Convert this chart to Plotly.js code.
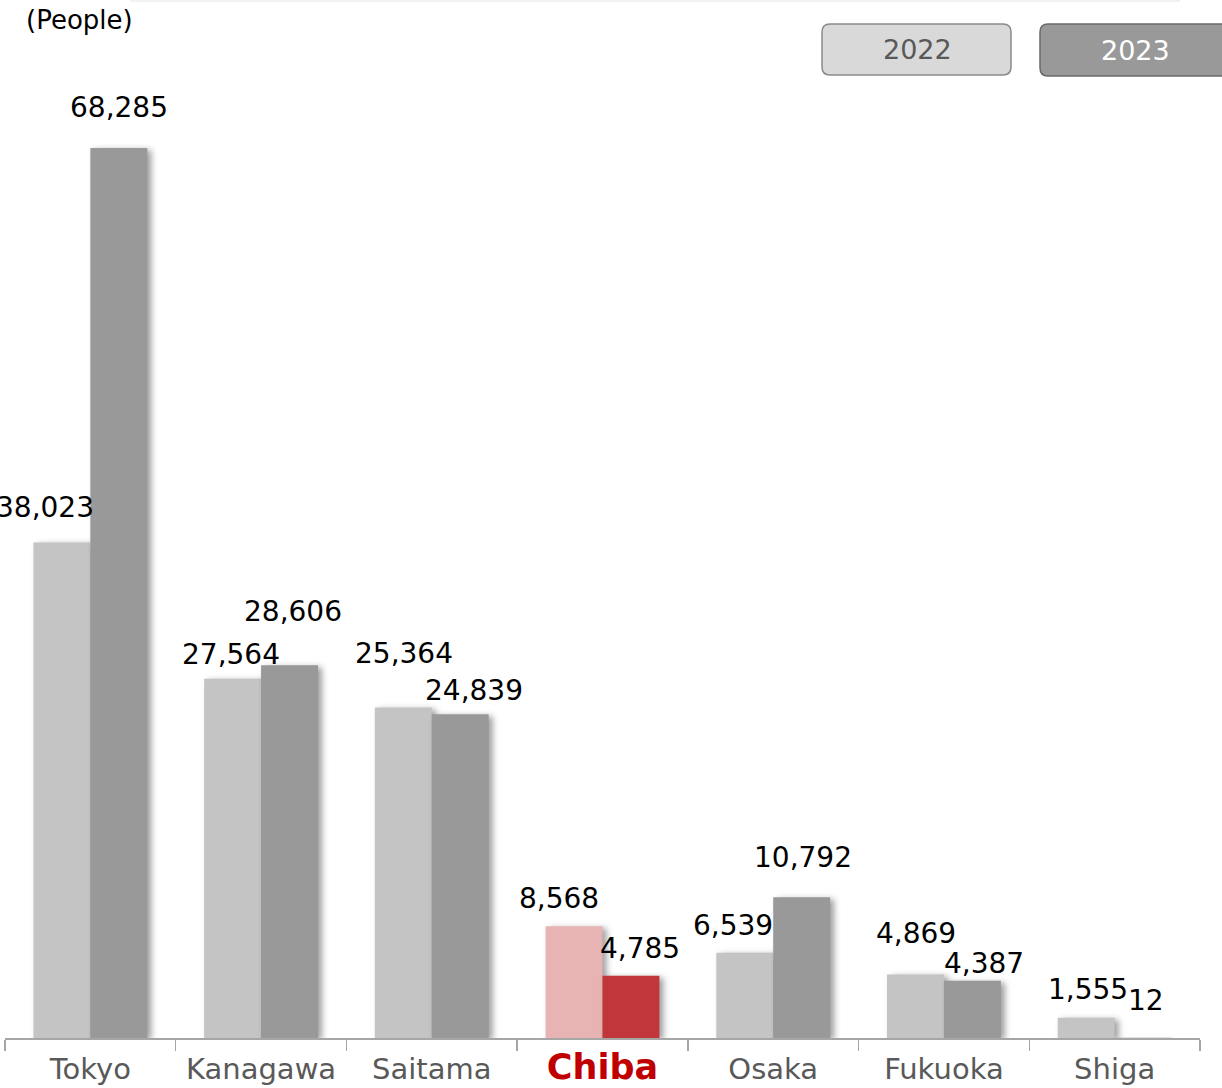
<!DOCTYPE html>
<html>
<head>
<meta charset="utf-8">
<script src="https://cdn.plot.ly/plotly-3.0.1.min.js"></script>
<style>
html,body{margin:0;padding:0;background:#fff;}
#chart{width:1222px;height:1088px;}
.bars .point path{filter:drop-shadow(4px 2px 3px rgba(0,0,0,0.38));}
</style>
</head>
<body>
<div id="chart"></div>
<script>
// ---- data ----
const prefectures = ["Tokyo","Kanagawa","Saitama","Chiba","Osaka","Fukuoka","Shiga"];
const values2022 = [38023, 27564, 25364, 8568, 6539, 4869, 1555];
const values2023 = [68285, 28606, 24839, 4785, 10792, 4387, 12];
const seriesNames = ["2022","2023"];
const unitLabel = "(People)";
const highlight = "Chiba";

// ---- styling ----
const FONT = "DejaVu Sans, Verdana, sans-serif";
const col2022 = "#c4c4c4", col2023 = "#999999";
const hi2022 = "#e8b3b3", hi2023 = "#c0363a";
const W = 1222, H = 1088;
const mL = 5, mR = 22, mT = 100, mB = 50;
const plotW = W - mL - mR, plotH = H - mT - mB;

const colors22 = prefectures.map(p => p === highlight ? hi2022 : col2022);
const colors23 = prefectures.map(p => p === highlight ? hi2023 : col2023);

// label nudges (px) relative to bar centre / bar top
const dx22 = [-17, -2, 1, -15, -12, 1, 2];
const dy22 = [35, 24, 54, 28, 27, 41, 28];
const dx23 = [0, 3, 14, 9, 1, 12, 3];
const dy23 = [41, 54, 24, 27, 40, 17, 37];

const fmt = v => v.toLocaleString("en-US");
const halfBar = plotW / prefectures.length / 6;

const annotations = [];
prefectures.forEach((p, i) => {
  annotations.push({x: p, y: values2022[i], xref: "x", yref: "y", text: fmt(values2022[i]),
    showarrow: false, xanchor: "center", yanchor: "middle",
    xshift: -halfBar + dx22[i], yshift: dy22[i], font: {family: FONT, size: 28, color: "#000"}});
  annotations.push({x: p, y: values2023[i], xref: "x", yref: "y", text: fmt(values2023[i]),
    showarrow: false, xanchor: "center", yanchor: "middle",
    xshift: halfBar + dx23[i], yshift: dy23[i], font: {family: FONT, size: 28, color: "#000"}});
});

// pixel -> paper helpers
const px = x => (x - mL) / plotW;
const py = y => (H - mB - y) / plotH;
function roundRect(x0, y0, x1, y1, r) {
  const rx = r / plotW, ry = r / plotH;
  const a = px(x0), b = px(x1), t = py(y0), u = py(y1);
  return `M${a+rx},${t} L${b-rx},${t} Q${b},${t} ${b},${t-ry} L${b},${u+ry} Q${b},${u} ${b-rx},${u} ` +
         `L${a+rx},${u} Q${a},${u} ${a},${u+ry} L${a},${t-ry} Q${a},${t} ${a+rx},${t} Z`;
}

const shapes = [
  {type: "path", xref: "paper", yref: "paper", path: roundRect(822, 24, 1011, 75, 8),
   fillcolor: "#d9d9d9", line: {color: "#8a8a8a", width: 1.5}},
  {type: "path", xref: "paper", yref: "paper", path: roundRect(1040, 24, 1232, 76, 8),
   fillcolor: "#999999", line: {color: "#6a6a6a", width: 1.5}},
  {type: "line", xref: "paper", yref: "paper", x0: px(130), x1: px(1180), y0: py(1), y1: py(1),
   line: {color: "#f2f2f2", width: 2}}
];

annotations.push({xref: "paper", yref: "paper", x: px(917), y: py(49), text: seriesNames[0],
  showarrow: false, xanchor: "center", yanchor: "middle", font: {family: FONT, size: 27, color: "#595959"}});
annotations.push({xref: "paper", yref: "paper", x: px(1135), y: py(50), text: seriesNames[1],
  showarrow: false, xanchor: "center", yanchor: "middle", font: {family: FONT, size: 27, color: "#ffffff"}});
annotations.push({xref: "paper", yref: "paper", x: px(24), y: py(20), text: unitLabel,
  showarrow: false, xanchor: "left", yanchor: "middle", font: {family: FONT, size: 26, color: "#000"}});

const tickText = prefectures.map(p => p === highlight
  ? `<span style="font-weight:bold;font-size:35px;color:#C00000">${p}</span>` : p);

const traces = [
  {type: "bar", name: seriesNames[0], x: prefectures, y: values2022, marker: {color: colors22}, hoverinfo: "skip"},
  {type: "bar", name: seriesNames[1], x: prefectures, y: values2023, marker: {color: colors23}, hoverinfo: "skip"}
];

const layout = {
  width: W, height: H,
  margin: {l: mL, r: mR, t: mT, b: mB, pad: 0},
  paper_bgcolor: "#fff", plot_bgcolor: "#fff",
  barmode: "group", bargap: 1/3, bargroupgap: 0,
  showlegend: false,
  font: {family: FONT},
  xaxis: {type: "category", range: [-0.5, prefectures.length - 0.5], autorange: false,
    tickmode: "array", tickvals: prefectures, ticktext: tickText,
    tickson: "boundaries", ticks: "outside", ticklen: 11, tickwidth: 1.5, tickcolor: "#a6a6a6",
    ticklabelstandoff: 5,
    showline: true, linecolor: "#a6a6a6", linewidth: 1.5, showgrid: false, zeroline: false,
    tickfont: {family: FONT, size: 29, color: "#595959"}, automargin: false, fixedrange: true},
  yaxis: {range: [0, plotH / (890 / 68285)], autorange: false, visible: false, showgrid: false, zeroline: false, fixedrange: true},
  annotations: annotations,
  shapes: shapes
};

Plotly.newPlot("chart", traces, layout, {staticPlot: true, displayModeBar: false});
</script>
</body>
</html>
